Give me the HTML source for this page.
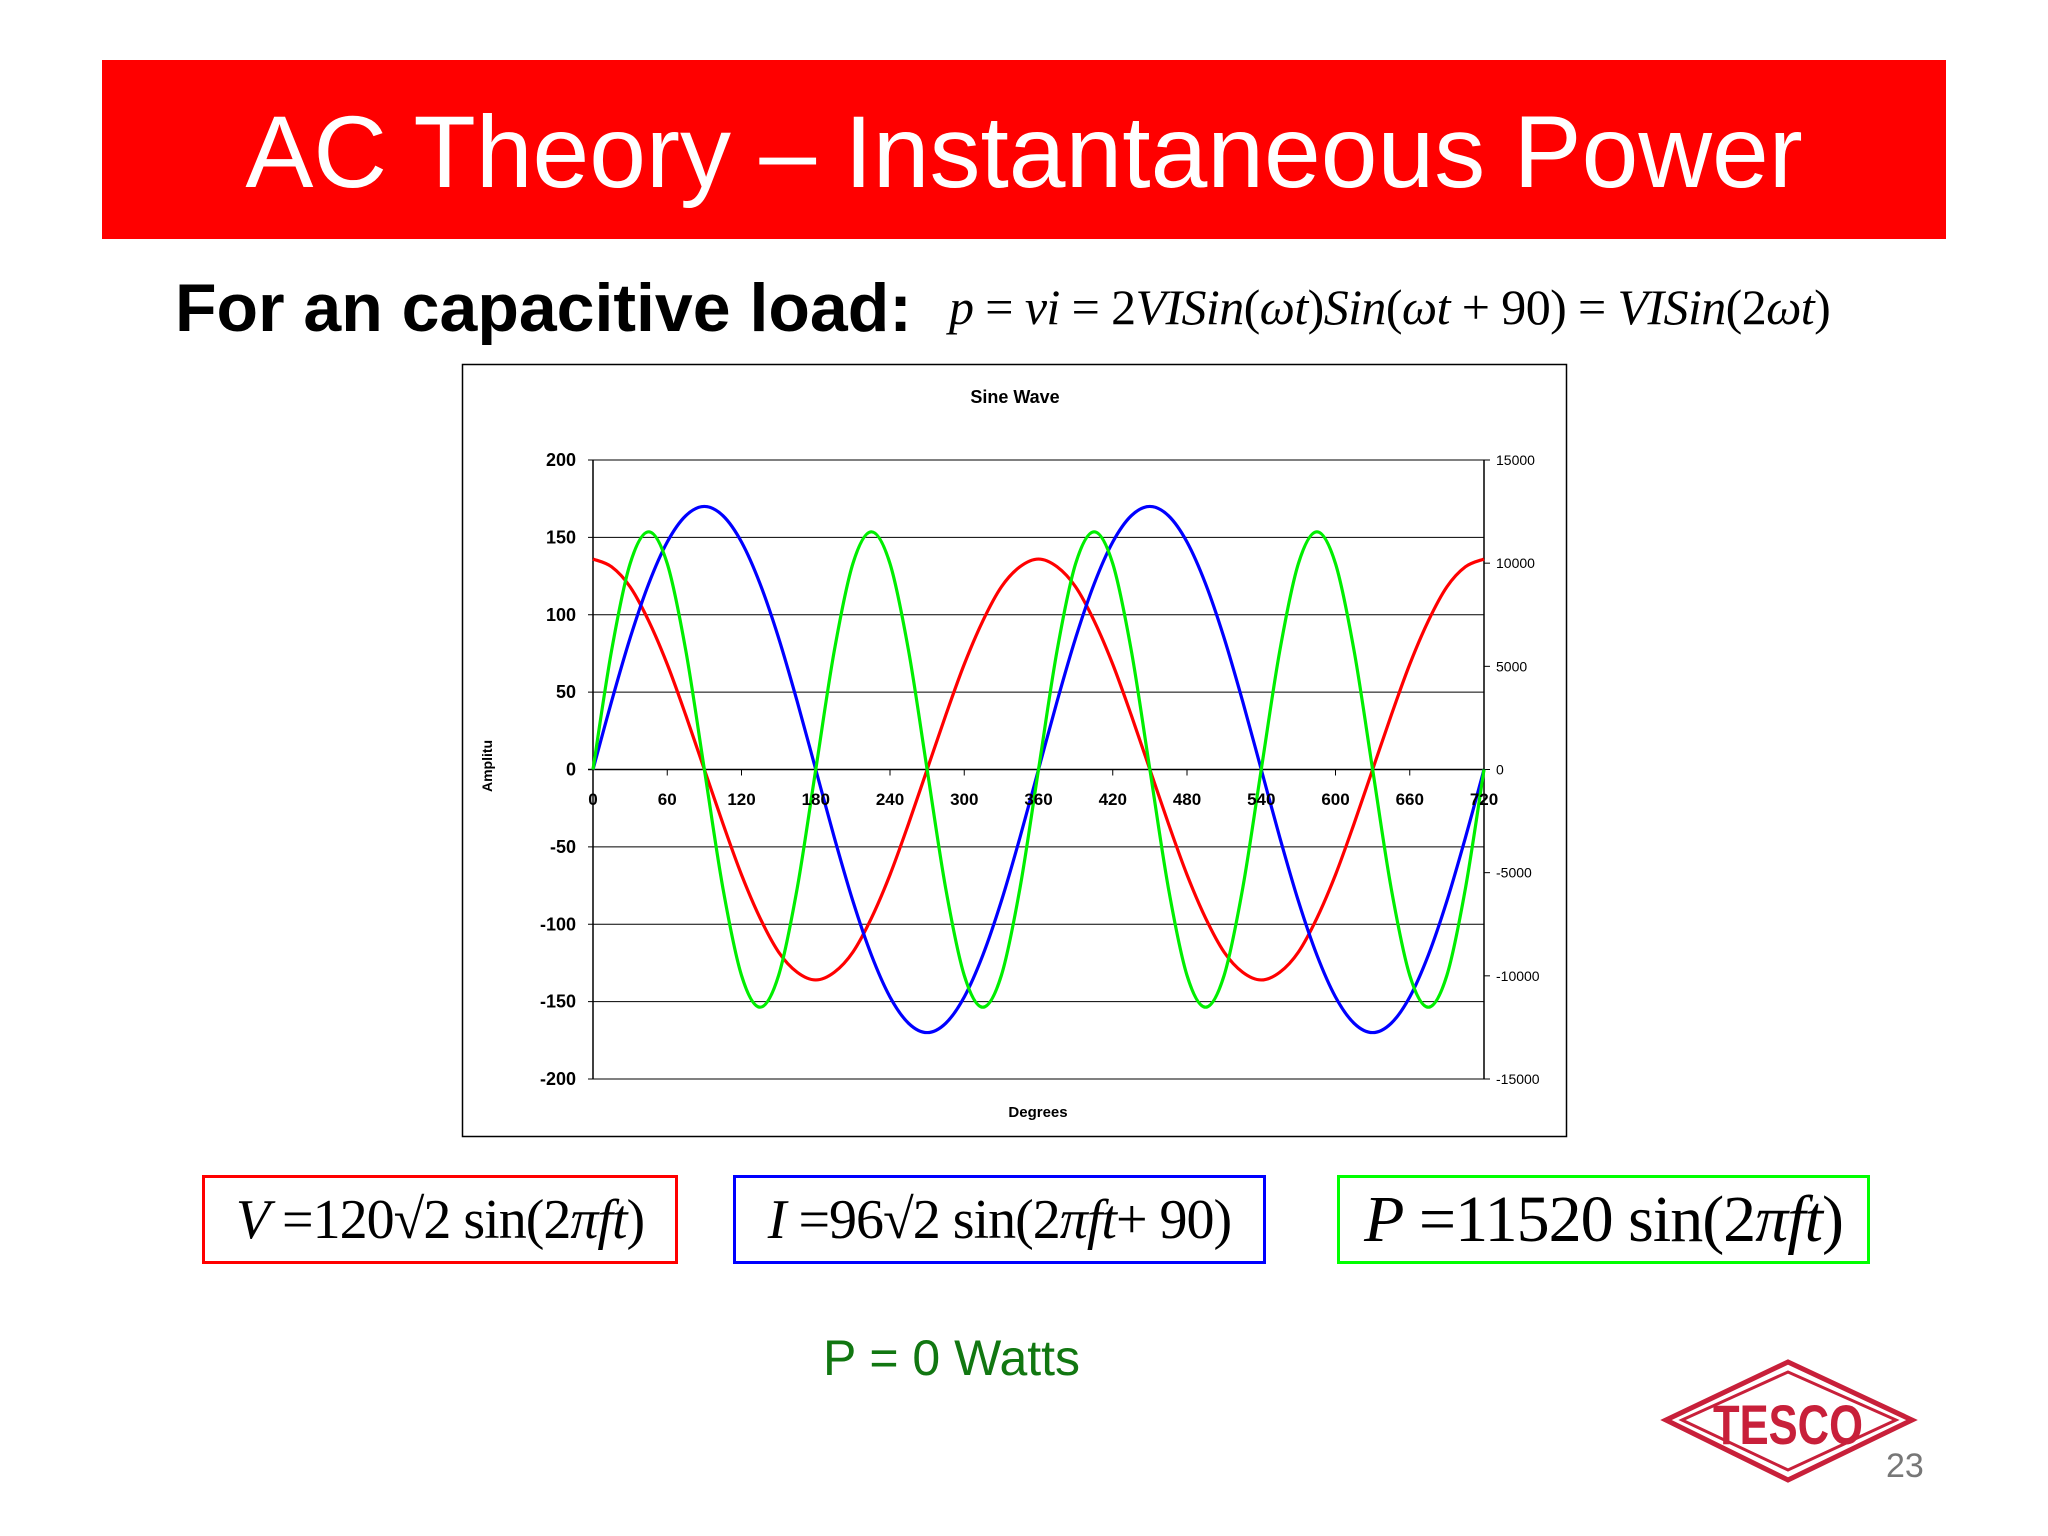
<!DOCTYPE html>
<html><head><meta charset="utf-8">
<style>
body{margin:0;background:#fff;}
#page{position:relative;width:2048px;height:1536px;overflow:hidden;background:#fff;font-family:"Liberation Sans",sans-serif;}
.abs{position:absolute;}
.eq{position:absolute;font-family:"Liberation Serif",serif;color:#000;white-space:nowrap;box-sizing:border-box;display:flex;align-items:center;justify-content:center;}
</style></head>
<body>
<div id="page">
  <div class="abs" style="left:102px;top:60px;width:1844px;height:179px;background:#ff0000;"></div>
  <div class="abs" style="left:102px;top:92px;width:1844px;text-align:center;color:#fff;font-size:102px;line-height:120px;">AC Theory – Instantaneous Power</div>
  <div class="abs" style="left:175px;top:268px;font-size:68px;font-weight:bold;line-height:80px;">For an capacitive load:</div>
  <div class="abs" style="left:949px;top:272px;font-family:'Liberation Serif',serif;font-size:50px;line-height:70px;white-space:nowrap;letter-spacing:-0.6px;"><i>p</i> = <i>vi</i> = 2<i>VISin</i>(<i>ωt</i>)<i>Sin</i>(<i>ωt</i> + 90) = <i>VISin</i>(2<i>ωt</i>)</div>

  <svg class="abs" style="left:0;top:0" width="2048" height="1536" id="chart">
    <rect x="462.5" y="364.5" width="1104" height="772" fill="#fff" stroke="#000" stroke-width="1.5"/>
    <text x="1015" y="403" text-anchor="middle" font-family="Liberation Sans" font-weight="bold" font-size="18">Sine Wave</text>
    <text x="1038" y="1117" text-anchor="middle" font-family="Liberation Sans" font-weight="bold" font-size="15">Degrees</text>
    <text transform="translate(492,766) rotate(-90)" text-anchor="middle" font-family="Liberation Sans" font-weight="bold" font-size="14">Amplitu</text>
    <g id="grid"></g><g id="series"></g><g id="labels"></g>
  </svg>

  <div class="eq" style="left:202px;top:1175px;width:476px;height:89px;border:3px solid #ff0000;font-size:56px;letter-spacing:-1px;"><i>V</i>&nbsp;=120√2 sin(2<i>πft</i>)</div>
  <div class="eq" style="left:733px;top:1175px;width:533px;height:89px;border:3px solid #0000ff;font-size:56px;letter-spacing:-1px;"><i>I</i>&nbsp;=96√2 sin(2<i>πft</i> + 90)</div>
  <div class="eq" style="left:1337px;top:1175px;width:533px;height:89px;border:3px solid #00ff00;font-size:66px;letter-spacing:-1px;"><i>P</i>&nbsp;=11520 sin(2<i>πft</i>)</div>

  <div class="abs" style="left:823px;top:1328px;font-size:50px;color:#117711;line-height:60px;">P = 0 Watts</div>

  <svg class="abs" style="left:1660px;top:1356px" width="260" height="130">
    <polygon points="6,64 128,6 252,64 128,124" fill="none" stroke="#c8203a" stroke-width="5"/>
    <polygon points="22,64 128,16 236,64 128,114" fill="none" stroke="#c8203a" stroke-width="3"/>
    <text x="128" y="88" text-anchor="middle" font-family="Liberation Sans" font-weight="bold" font-size="56" fill="#c8203a" textLength="150" lengthAdjust="spacingAndGlyphs">TESCO</text>
  </svg>
  <div class="abs" style="left:1886px;top:1446px;font-size:34px;color:#777;line-height:40px;">23</div>
</div>
<script>
const degrees=[0,15,30,45,60,75,90,105,120,135,150,165,180,195,210,225,240,255,270,285,300,315,330,345,360,375,390,405,420,435,450,465,480,495,510,525,540,555,570,585,600,615,630,645,660,675,690,705,720];
const currentI=[136,131,118,96,68,35,0,-35,-68,-96,-118,-131,-136,-131,-118,-96,-68,-35,0,35,68,96,118,131,136,131,118,96,68,35,0,-35,-68,-96,-118,-131,-136,-131,-118,-96,-68,-35,0,35,68,96,118,131,136];
const voltageV=[0,44,85,120,147,164,170,164,147,120,85,44,0,-44,-85,-120,-147,-164,-170,-164,-147,-120,-85,-44,0,44,85,120,147,164,170,164,147,120,85,44,0,-44,-85,-120,-147,-164,-170,-164,-147,-120,-85,-44,0];
const powerP=[0,5760,9977,11520,9977,5760,0,-5760,-9977,-11520,-9977,-5760,0,5760,9977,11520,9977,5760,0,-5760,-9977,-11520,-9977,-5760,0,5760,9977,11520,9977,5760,0,-5760,-9977,-11520,-9977,-5760,0,5760,9977,11520,9977,5760,0,-5760,-9977,-11520,-9977,-5760,0];
const xTicks=[0,60,120,180,240,300,360,420,480,540,600,660,720];
const yTicks=[200,150,100,50,0,-50,-100,-150,-200];
const y2Ticks=[15000,10000,5000,0,-5000,-10000,-15000];

const L=593,R=1484,T=460,B=1079;
const xS=d=>L+(d/720)*(R-L);
const yS=v=>T+(200-v)/400*(B-T);
const y2S=v=>T+(15000-v)/30000*(B-T);
const NS='http://www.w3.org/2000/svg';
function mk(tag,attrs,parent){const e=document.createElementNS(NS,tag);for(const k in attrs)e.setAttribute(k,attrs[k]);parent.appendChild(e);return e;}
const grid=document.getElementById('grid'),ser=document.getElementById('series'),lab=document.getElementById('labels');

yTicks.forEach(v=>{
  const y=yS(v);
  const g=mk('line',{x1:L-5,x2:R,y1:y,y2:y,stroke:'#000','stroke-width':v===0?1.5:1},grid);
  
  
  const t=mk('text',{x:576,y:y+6,'text-anchor':'end','font-family':'Liberation Sans','font-weight':'bold','font-size':18},lab);
  t.textContent=v;
  
  
});
y2Ticks.forEach(v=>{
  const y=y2S(v);
  mk('line',{x1:R,x2:R+6,y1:y,y2:y,stroke:'#000'},grid);
  const t=mk('text',{x:1496,y:y+5,'font-family':'Liberation Sans','font-size':14},lab);
  t.textContent=v;
  
  
});
xTicks.forEach(d=>{
  const x=xS(d);
  mk('line',{x1:x,x2:x,y1:yS(0),y2:yS(0)+6,stroke:'#000'},grid);
  const t=mk('text',{x:x,y:805,'text-anchor':'middle','font-family':'Liberation Sans','font-weight':'bold','font-size':17},lab);
  t.textContent=d;
  
  
});
mk('line',{x1:L,x2:L,y1:T,y2:B,stroke:'#000','stroke-width':1.5},grid);
mk('line',{x1:R,x2:R,y1:T,y2:B,stroke:'#000','stroke-width':1.5},grid);

function smooth(pts){
  let d='M'+pts[0][0]+','+pts[0][1];
  for(let i=0;i<pts.length-1;i++){
    const p0=pts[Math.max(i-1,0)],p1=pts[i],p2=pts[i+1],p3=pts[Math.min(i+2,pts.length-1)];
    const c1=[p1[0]+(p2[0]-p0[0])/6,p1[1]+(p2[1]-p0[1])/6];
    const c2=[p2[0]-(p3[0]-p1[0])/6,p2[1]-(p3[1]-p1[1])/6];
    d+=' C'+c1.join(',')+' '+c2.join(',')+' '+p2.join(',');
  }
  return d;
}
function drawSeries(vals,scale,color,name){
  const pts=degrees.map((d,i)=>[xS(d),scale(vals[i])]);
  const p=mk('path',{d:smooth(pts),fill:'none',stroke:color,'stroke-width':3.2},ser);
  
  
}
drawSeries(currentI,yS,'#ff0000','current-line');
drawSeries(voltageV,yS,'#0000ff','voltage-line');
drawSeries(powerP,y2S,'#00ee00','power-line');
</script>
</body></html>
